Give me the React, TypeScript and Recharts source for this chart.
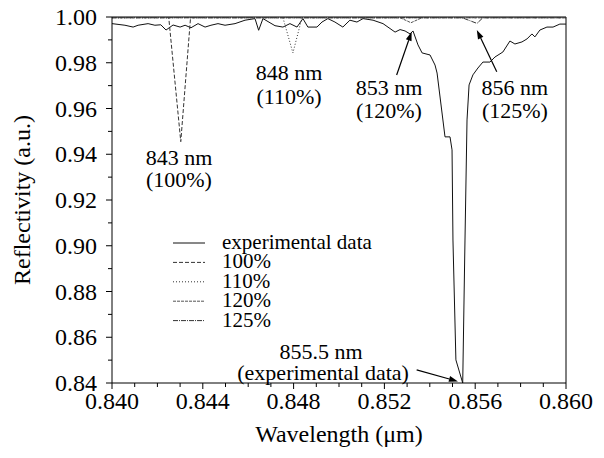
import React from 'react';
import {
  LineChart,
  Line,
  XAxis,
  YAxis,
  Legend,
  ReferenceLine,
  ReferenceDot,
} from 'recharts';

const FONT = 'Liberation Serif';

// experimental spectrum (wavelength in µm, reflectivity)
const expWavelength = [
  0.8400, 0.84057, 0.84093, 0.84115, 0.84159, 0.84189, 0.84215, 0.84238, 0.84269, 0.8430,
  0.84322, 0.84348, 0.84379, 0.8441, 0.84436, 0.84467, 0.84498, 0.84542, 0.84586, 0.8463,
  0.84646, 0.84665, 0.84718, 0.84753, 0.84784, 0.84815, 0.84841, 0.84863, 0.84903, 0.84925,
  0.84951, 0.84982, 0.85017, 0.85048, 0.85079, 0.85106, 0.8515, 0.85194, 0.85247, 0.85269,
  0.85291, 0.85313, 0.85326, 0.85348, 0.85366, 0.85401, 0.85423, 0.85432, 0.85467, 0.85489,
  0.85498, 0.85502, 0.85515, 0.85545, 0.85555, 0.85564, 0.85573, 0.8559, 0.85612, 0.85634,
  0.85665, 0.85687, 0.85722, 0.85753, 0.85775, 0.85806, 0.85828, 0.8585, 0.85863, 0.85885,
  0.85916, 0.85943, 0.85973, 0.8600,
];
const expReflectivity = [
  0.9971, 0.9964, 0.9956, 0.9964, 0.9971, 0.9964, 0.9966, 0.9943, 0.9965, 0.9956,
  0.9964, 0.9953, 0.9971, 0.9956, 0.9964, 0.9971, 0.9964, 0.9971, 0.9986, 0.9993,
  0.9942, 0.9993, 0.9962, 0.9956, 0.9971, 0.9956, 0.9993, 0.9956, 0.9956, 0.9978,
  0.9993, 0.9978, 0.9956, 0.9986, 0.9978, 0.9993, 0.9986, 0.9971, 0.9934, 0.9945,
  0.9939, 0.9926, 0.9939, 0.9878, 0.9843, 0.9834, 0.9790, 0.9755, 0.9476, 0.9476,
  0.9419, 0.9025, 0.8501, 0.8400, 0.9025, 0.9550, 0.9703, 0.9747, 0.9777, 0.9803,
  0.9803, 0.9825, 0.9847, 0.9895, 0.9882, 0.9891, 0.9904, 0.9926, 0.9913, 0.9943,
  0.9956, 0.9956, 0.9969, 0.9969,
];

// simulated spectra for different layer thickness scalings
const sim100Wavelength = [0.840, 0.8425, 0.84303, 0.84346, 0.860];
const sim100Reflectivity = [0.9997, 0.9997, 0.9455, 0.9997, 0.9997];
const sim110Wavelength = [0.840, 0.84753, 0.84797, 0.84837, 0.860];
const sim110Reflectivity = [0.9997, 0.9997, 0.9843, 0.9997, 0.9997];
const sim120Wavelength = [0.840, 0.85269, 0.85317, 0.85366, 0.860];
const sim120Reflectivity = [0.9997, 0.9997, 0.9975, 0.9997, 0.9997];
const sim125Wavelength = [0.840, 0.85542, 0.85608, 0.85634, 0.860];
const sim125Reflectivity = [0.9997, 0.9997, 0.9972, 0.9997, 0.9997];

const xTicks = [
  0.840, 0.841, 0.842, 0.843, 0.844, 0.845, 0.846, 0.847, 0.848, 0.849, 0.850,
  0.851, 0.852, 0.853, 0.854, 0.855, 0.856, 0.857, 0.858, 0.859, 0.860,
];
const yTicks = [
  0.84, 0.85, 0.86, 0.87, 0.88, 0.89, 0.90, 0.91, 0.92, 0.93, 0.94, 0.95, 0.96, 0.97, 0.98, 0.99, 1.00,
];

// text annotations (centre positions in data units)
const noteText = ['843 nm', '(100%)', '848 nm', '(110%)', '853 nm', '(120%)', '856 nm', '(125%)', '855.5 nm', '(experimental data)'];
const noteX = [0.84295, 0.84295, 0.8478, 0.8478, 0.8522, 0.8522, 0.85775, 0.85775, 0.84921, 0.8493];
const noteY = [0.9388, 0.9292, 0.9760, 0.9655, 0.9694, 0.9590, 0.9694, 0.9590, 0.8538, 0.8447];

// arrows: tail -> tip
const arrowFrom = [[0.85254, 0.97465], [0.85695, 0.9761], [0.85342, 0.84574]];
const arrowTo = [[0.8532, 0.99358], [0.85607, 0.99432], [0.85524, 0.84071]];

const zip = (xs: number[], ys: number[]) => xs.map((w, i) => ({ w, r: ys[i] }));

const series = [
  { name: 'experimental data', data: zip(expWavelength, expReflectivity), dash: undefined, color: '#111' },
  { name: '100%', data: zip(sim100Wavelength, sim100Reflectivity), dash: '4 2', color: '#333' },
  { name: '110%', data: zip(sim110Wavelength, sim110Reflectivity), dash: '1 2', color: '#333' },
  { name: '120%', data: zip(sim120Wavelength, sim120Reflectivity), dash: '3 1', color: '#555' },
  { name: '125%', data: zip(sim125Wavelength, sim125Reflectivity), dash: '5 1 1 1', color: '#333' },
];

const XTick = (props: any) => {
  const { x, y, payload } = props;
  const v = payload.value;
  const major = Math.round(v * 1000) % 4 === 0;
  return (
    <g>
      <line x1={x} y1={y} x2={x} y2={y + (major ? 6 : 4)} stroke="#000" />
      {major && (
        <text x={x} y={y + 26} textAnchor="middle" fontFamily={FONT} fontSize={24} fill="#000">
          {v.toFixed(3)}
        </text>
      )}
    </g>
  );
};

const YTick = (props: any) => {
  const { x, y, payload } = props;
  const v = payload.value;
  const major = Math.round(v * 100) % 2 === 0;
  return (
    <g>
      <line x1={x} y1={y} x2={x - (major ? 6 : 4)} y2={y} stroke="#000" />
      {major && (
        <text x={x - 15} y={y + 8} textAnchor="end" fontFamily={FONT} fontSize={24} fill="#000">
          {v.toFixed(2)}
        </text>
      )}
    </g>
  );
};

const renderLegend = () => (
  <svg width={240} height={112}>
    {series.map((s, i) => (
      <g key={s.name}>
        <line x1={8} x2={40} y1={13 + i * 19.4} y2={13 + i * 19.4} stroke={s.color} strokeDasharray={s.dash} />
        <text x={57} y={13 + i * 19.4 + 6} fontFamily={FONT} fontSize={21} fill="#000">{s.name}</text>
      </g>
    ))}
  </svg>
);

const arrowShape = (p: any) => {
  const { x1, y1, x2, y2 } = p;
  const a = Math.atan2(y2 - y1, x2 - x1);
  const len = 9;
  const hw = 3;
  const bx = x2 - len * Math.cos(a);
  const by = y2 - len * Math.sin(a);
  const pts = [
    `${x2},${y2}`,
    `${bx + hw * Math.sin(a)},${by - hw * Math.cos(a)}`,
    `${bx - hw * Math.sin(a)},${by + hw * Math.cos(a)}`,
  ].join(' ');
  return (
    <g>
      <line x1={x1} y1={y1} x2={bx} y2={by} stroke="#000" strokeWidth={1.2} />
      <polygon points={pts} fill="#000" />
    </g>
  );
};

export default function App() {
  return (
    <div style={{ position: 'absolute', left: 0, top: 0, width: 604, height: 458, background: '#fff' }}>
      <LineChart width={604} height={458} margin={{ top: 17, right: 38, bottom: 0, left: 0 }}>
        <XAxis
          dataKey="w"
          type="number"
          domain={[0.84, 0.86]}
          ticks={xTicks}
          interval={0}
          allowDataOverflow
          height={75}
          tickSize={0}
          tickMargin={0}
          tick={<XTick />}
          axisLine={{ stroke: '#000' }}
          tickLine={false}
          label={(p: any) => (
            <text
              x={p.viewBox.x + p.viewBox.width / 2}
              y={p.viewBox.y + 59}
              textAnchor="middle"
              fontFamily={FONT}
              fontSize={24}
              fill="#000"
            >
              Wavelength (μm)
            </text>
          )}
        />
        <YAxis
          type="number"
          domain={[0.84, 1.0]}
          ticks={yTicks}
          interval={0}
          allowDataOverflow
          width={112}
          tickSize={0}
          tickMargin={0}
          tick={<YTick />}
          axisLine={{ stroke: '#000' }}
          tickLine={false}
          label={(p: any) => {
            const cy = p.viewBox.y + p.viewBox.height / 2;
            return (
              <text
                x={22}
                y={cy}
                transform={`rotate(-90, 22, ${cy})`}
                textAnchor="middle"
                dominantBaseline="central"
                fontFamily={FONT}
                fontSize={24}
                fill="#000"
              >
                Reflectivity (a.u.)
              </text>
            );
          }}
        />
        <ReferenceLine y={1.0} stroke="#000" />
        <ReferenceLine x={0.86} stroke="#000" />
        {series.map((s) => (
          <Line
            key={s.name}
            data={s.data}
            dataKey="r"
            name={s.name}
            type="linear"
            stroke={s.color}
            strokeWidth={1}
            strokeDasharray={s.dash}
            dot={false}
            activeDot={false}
            isAnimationActive={false}
          />
        ))}
        {arrowFrom.map((f, i) => (
          <ReferenceLine
            key={'arrow' + i}
            segment={[{ x: f[0], y: f[1] }, { x: arrowTo[i][0], y: arrowTo[i][1] }]}
            shape={arrowShape}
          />
        ))}
        {noteText.map((t, i) => (
          <ReferenceDot
            key={'note' + i}
            x={noteX[i]}
            y={noteY[i]}
            r={1}
            shape={(p: any) => (
              <text
                x={p.cx}
                y={p.cy}
                dy="0.35em"
                textAnchor="middle"
                fontFamily={FONT}
                fontSize={22}
                fill="#000"
              >
                {t}
              </text>
            )}
          />
        ))}
        <Legend
          layout="vertical"
          align="center"
          verticalAlign="middle"
          content={renderLegend}
          wrapperStyle={{ left: 165, top: 230, width: 240, height: 112 }}
        />
      </LineChart>
    </div>
  );
}
